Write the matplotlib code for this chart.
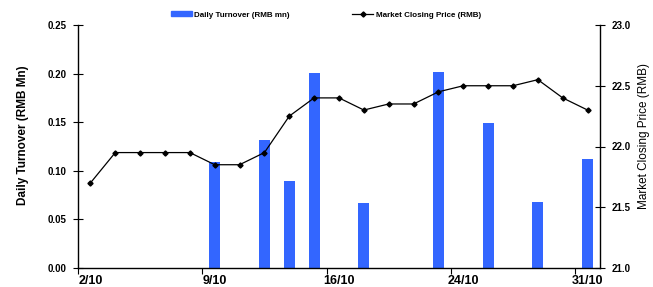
import matplotlib
matplotlib.use("Agg")
import matplotlib.pyplot as plt
import numpy as np
from matplotlib.lines import Line2D
from matplotlib.patches import Patch

dates = ["2/10", "3/10", "4/10", "5/10", "6/10", "9/10", "10/10", "11/10", "12/10", "13/10",
         "16/10", "17/10", "18/10", "19/10", "20/10", "24/10", "25/10", "26/10", "27/10", "30/10", "31/10"]
turnover = [0, 0, 0, 0, 0, 0.109, 0, 0.132, 0.089, 0.201,
            0, 0.067, 0, 0, 0.202, 0, 0.149, 0, 0.068, 0, 0.112]
price = [21.70, 21.95, 21.95, 21.95, 21.95, 21.85, 21.85, 21.95, 22.25, 22.40,
         22.40, 22.30, 22.35, 22.35, 22.45, 22.50, 22.50, 22.50, 22.55, 22.40, 22.30]
label_dates = ["2/10", "9/10", "16/10", "24/10", "31/10"]

plt.rcParams['font.family'] = ['Liberation Sans', 'DejaVu Sans']

W, H = 653, 287
fig = plt.figure(figsize=(W / 100, H / 100), dpi=100)
ax = fig.add_axes([78 / W, 1 - 268 / H, (600 - 78) / W, (268 - 25) / H])
ax2 = ax.twinx()

x = np.arange(len(dates))
blue = "#3366FF"
ax.bar(x, turnover, width=0.45, color=blue, zorder=2)
ax2.plot(x, price, color="black", lw=0.9, marker="D", ms=2.6, zorder=3)

ax.set_xlim(-0.5, len(dates) - 0.5)
ax.set_ylim(0, 0.25)
ax.set_yticks(np.arange(0, 0.251, 0.05))
ax.set_yticklabels([f"{v:.2f}" for v in np.arange(0, 0.251, 0.05)])
ax2.set_ylim(21.0, 23.0)
ax2.set_yticks(np.arange(21.0, 23.01, 0.5))
ax2.set_yticklabels([f"{v:.1f}" for v in np.arange(21.0, 23.01, 0.5)])

lab_pos = [dates.index(d) for d in label_dates]
ax.set_xticks(lab_pos)
ax.set_xticklabels(label_dates, fontsize=9, fontweight="bold")
ax.set_xticks([-0.5] + [p + 4.5 for p in lab_pos[:-1]], minor=True)
ax.tick_params(axis="x", which="major", length=0, pad=5)
ax.tick_params(axis="x", which="minor", length=4, direction="out", width=0.8)

for a in (ax, ax2):
    a.spines["top"].set_visible(False)
    for s in a.spines.values():
        s.set_linewidth(1.0)
ax.spines["right"].set_visible(False)
ax2.spines["left"].set_visible(False)
ax2.spines["bottom"].set_visible(False)

ax.tick_params(axis="y", direction="inout", length=7, width=0.8, labelsize=7, pad=5)
ax2.tick_params(axis="y", direction="inout", length=7, width=0.8, labelsize=7, pad=5)
for t in ax.get_yticklabels() + ax2.get_yticklabels():
    t.set_fontweight("bold")

ax.set_ylabel("Daily Turnover (RMB Mn)", fontsize=8.5, fontweight="bold", labelpad=13)
ax2.set_ylabel("Market Closing Price (RMB)", fontsize=8.5, labelpad=5)
ax.yaxis.label.set_y(0.545)
ax2.yaxis.label.set_y(0.545)

handles = [Patch(color=blue), Line2D([], [], color="black", lw=0.9, marker="D", ms=2.6)]
fig.legend(handles, ["Daily Turnover (RMB mn)", "Market Closing Price (RMB)"],
           loc="center", bbox_to_anchor=(0.499, 0.948), ncol=2, frameon=False,
           prop={"size": 5.8, "weight": "bold"}, handlelength=2.6, handleheight=0.6,
           columnspacing=7.8, handletextpad=0.3)

fig.savefig("out.png", dpi=100)
